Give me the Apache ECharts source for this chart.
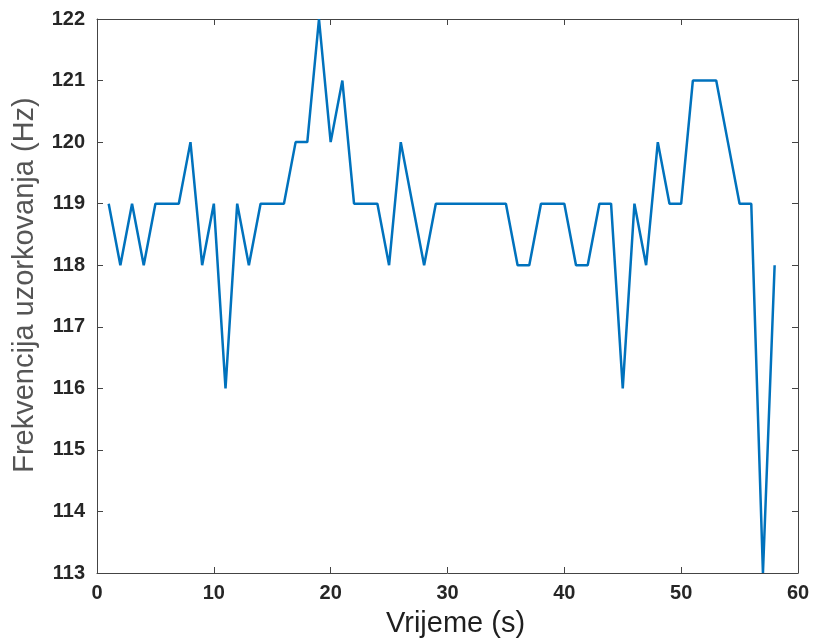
<!DOCTYPE html>
<html>
<head>
<meta charset="utf-8">
<script src="https://cdn.jsdelivr.net/npm/echarts@6/dist/echarts.min.js"></script>
<style>html,body{margin:0;padding:0;background:#fff}#c{width:813px;height:643px}</style>
</head>
<body>
<div id="c"></div>
<script>
var timeSec = [1,2,3,4,5,6,7,8,9,10,11,12,13,14,15,16,17,18,19,20,21,22,23,24,25,26,27,28,29,30,31,32,33,34,35,36,37,38,39,40,41,42,43,44,45,46,47,48,49,50,51,52,53,54,55,56,57,58];
var freqHz = [119,118,119,118,119,119,119,120,118,119,116,119,118,119,119,119,120,120,122,120,121,119,119,119,118,120,119,118,119,119,119,119,119,119,119,118,118,119,119,119,118,118,119,119,116,119,118,120,119,119,121,121,121,120,119,119,113,118];
var xTitle = 'Vrijeme (s)';
var yTitle = 'Frekvencija uzorkovanja (Hz)';

var pts = timeSec.map(function(t,i){return [t, freqHz[i]];});
var axisCol = '#444';
var lblStyle = {color:'#262626', fontFamily:'Liberation Sans, Arial, sans-serif', fontWeight:'bold', fontSize:20};
var chart = echarts.init(document.getElementById('c'), null, {renderer:'canvas'});
chart.setOption({
  animation:false,
  backgroundColor:'#fff',
  grid:{left:97, right:15, top:19, bottom:67},
  xAxis:[{
    type:'value', min:0, max:60, interval:10, position:'bottom',
    axisLine:{show:true, onZero:false, lineStyle:{color:axisCol, width:1}},
    axisTick:{show:true, inside:true, length:6, lineStyle:{color:axisCol}},
    axisLabel:Object.assign({margin:10}, lblStyle),
    splitLine:{show:false},
    name:xTitle, nameLocation:'middle', nameGap:36,
    nameTextStyle:{color:'#1f1f1f', fontFamily:'Liberation Sans, Arial, sans-serif', fontSize:29, padding:[0,0,0,16]}
  },{
    type:'value', min:0, max:60, interval:10, position:'top',
    axisLine:{show:true, onZero:false, lineStyle:{color:axisCol, width:1}},
    axisTick:{show:true, inside:true, length:6, lineStyle:{color:axisCol}},
    axisLabel:{show:false}, splitLine:{show:false}
  }],
  yAxis:[{
    type:'value', min:113, max:122, interval:1, position:'left',
    axisLine:{show:true, onZero:false, lineStyle:{color:axisCol, width:1}},
    axisTick:{show:true, inside:true, length:6, lineStyle:{color:axisCol}},
    axisLabel:Object.assign({margin:12}, lblStyle),
    splitLine:{show:false},
    name:yTitle, nameLocation:'middle', nameGap:58,
    nameTextStyle:{color:'#555', fontFamily:'Liberation Sans, Arial, sans-serif', fontSize:29, padding:[0,0,0,22]}
  },{
    type:'value', min:113, max:122, interval:1, position:'right',
    axisLine:{show:true, onZero:false, lineStyle:{color:axisCol, width:1}},
    axisTick:{show:true, inside:true, length:6, lineStyle:{color:axisCol}},
    axisLabel:{show:false}, splitLine:{show:false}
  }],
  series:[{
    type:'line', xAxisIndex:0, yAxisIndex:0, data:pts,
    showSymbol:false, symbol:'none',
    lineStyle:{color:'#0072BD', width:2.5},
    clip:false
  }]
});
</script>
</body>
</html>
